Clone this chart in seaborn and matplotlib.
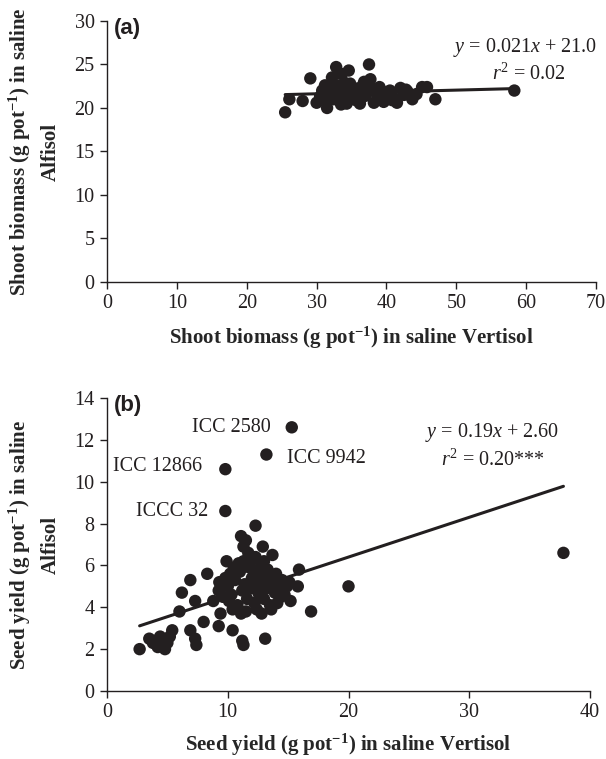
import numpy as np
import pandas as pd
import matplotlib
matplotlib.use('Agg')
import matplotlib.pyplot as plt
import seaborn as sns

# panel (a): shoot biomass, Vertisol vs Alfisol
biomass_vertisol = [25.5, 26.1, 28.0, 29.1, 30.0, 30.5, 30.8, 31.0, 31.3, 31.5, 31.8, 32.0,
                    32.2, 32.4, 32.8, 33.0, 33.2, 33.5, 33.6, 33.8, 34.0, 34.3, 34.6, 34.8,
                    35.0, 35.3, 35.6, 36.0, 36.2, 36.5, 37.0, 37.5, 37.7, 38.0, 38.2, 38.6,
                    39.0, 39.6, 40.0, 40.5, 41.0, 41.5, 42.0, 42.5, 43.0, 43.7, 44.3, 45.1,
                    45.8, 47.0, 58.3, 34.0, 36.8, 35.5, 39.2, 33.0, 31.2, 37.3, 40.8, 42.8]
biomass_alfisol = [19.5, 21.0, 20.8, 23.4, 20.6, 21.3, 22.0, 21.5, 20.8, 20.0, 21.8, 22.3,
                   23.5, 21.0, 24.7, 22.6, 21.6, 20.4, 23.9, 22.1, 21.2, 20.5, 24.3, 22.8,
                   21.7, 22.3, 20.9, 21.9, 20.5, 22.5, 21.4, 25.0, 23.3, 22.2, 20.6, 21.6,
                   22.4, 20.7, 21.8, 22.0, 21.2, 20.6, 22.3, 21.5, 21.9, 21.0, 21.6, 22.4,
                   22.4, 21.0, 22.0, 22.9, 23.0, 21.2, 21.0, 21.0, 22.6, 22.0, 20.9, 22.1]
eq_a = (0.021, 21.0)

# panel (b): seed yield, Vertisol vs Alfisol
seed_vertisol = [2.7, 3.5, 4.0, 4.4, 4.2, 4.8, 5.0, 5.4, 4.5, 3.8, 5.2,
                 6.0, 6.2, 6.9, 6.9, 7.3, 7.4, 7.3, 8.0, 8.3, 8.8, 9.25, 9.4, 9.25,
                 9.8, 9.9, 10.1, 10.4, 11.1, 11.5, 11.3, 11.2, 11.3, 11.1, 12.3, 12.9,
                 13.7, 13.1, 12.3, 11.3, 10.5, 13.3, 12.5, 15.9, 15.1, 15.8, 15.2, 14.4,
                 16.9, 20.0, 37.8,
                 10.0, 10.3, 10.6, 10.8, 11.0, 11.2, 11.4, 11.6, 11.8, 12.0, 12.0, 12.2,
                 12.4, 12.6, 12.7, 12.9, 13.0, 13.2, 13.4, 13.5, 13.7, 13.9, 14.0, 14.2,
                 14.5, 14.7, 14.9, 10.4, 11.5, 12.8, 10.9, 12.1, 13.0, 9.6, 9.3, 10.2,
                 11.7, 12.4, 14.1, 13.6]
seed_alfisol = [2.0, 2.5, 2.4, 2.6, 2.1, 2.0, 2.3, 2.9, 2.2, 2.3, 2.6,
                3.8, 4.7, 5.3, 2.9, 4.3, 2.2, 2.5, 3.3, 5.6, 4.3, 4.8, 3.7, 3.1,
                5.4, 6.2, 4.3, 2.9, 7.4, 7.2, 6.9, 2.4, 2.2, 3.7, 7.9, 6.9,
                6.5, 2.5, 6.4, 6.2, 5.9, 5.8, 5.6, 5.8, 5.2, 5.0, 4.3, 4.5,
                3.8, 5.0, 6.6,
                5.0, 4.6, 5.3, 4.1, 5.7, 4.8, 5.1, 4.4, 5.9, 4.9, 5.4, 4.2,
                5.0, 4.6, 5.9, 5.3, 4.4, 4.9, 5.5, 4.1, 5.1, 4.7, 5.6, 4.9,
                5.3, 4.6, 5.0, 3.9, 3.8, 3.7, 6.1, 6.3, 6.2, 4.5, 5.2, 5.6,
                6.6, 3.9, 4.2, 3.9]
genotypes = ['ICC 2580', 'ICC 9942', 'ICC 12866', 'ICCC 32']
geno_vertisol = [15.3, 13.2, 9.8, 9.8]
geno_alfisol = [12.6, 11.3, 10.6, 8.6]
eq_b = (0.19, 2.60)

ink = '#231f20'
sns.set_style('ticks')
plt.rcParams['font.family'] = ['Liberation Serif', 'DejaVu Serif']
plt.rcParams['mathtext.fontset'] = 'custom'
plt.rcParams['mathtext.rm'] = 'Liberation Serif'
plt.rcParams['mathtext.it'] = 'Liberation Serif:italic'
plt.rcParams['mathtext.bf'] = 'Liberation Serif:bold'
plt.rcParams['text.color'] = ink
plt.rcParams['axes.edgecolor'] = ink
plt.rcParams['xtick.color'] = ink
plt.rcParams['ytick.color'] = ink

fig = plt.figure(figsize=(6.06, 7.59), dpi=100)
ax1 = fig.add_axes([0.1766, 0.6285, 0.8070, 0.3439])
ax2 = fig.add_axes([0.1766, 0.0896, 0.7970, 0.3860])

df_a = pd.DataFrame({'vert': biomass_vertisol, 'alf': biomass_alfisol})
df_b = pd.DataFrame({'vert': seed_vertisol + geno_vertisol, 'alf': seed_alfisol + geno_alfisol})

for ax, df, eq in [(ax1, df_a, eq_a), (ax2, df_b, eq_b)]:
    sns.scatterplot(data=df, x='vert', y='alf', ax=ax, color=ink, s=80,
                    edgecolor='none', legend=False, zorder=3)
    xs = np.array([df['vert'].min(), df['vert'].max()])
    ax.plot(xs, eq[0] * xs + eq[1], color=ink, lw=2.2, zorder=2)
    sns.despine(ax=ax)
    for s in ['left', 'bottom']:
        ax.spines[s].set_linewidth(1.0)
    ax.tick_params(direction='out', length=5, width=1.0, labelsize=14.5, pad=4)

ax1.set_xlim(0, 70)
ax1.set_ylim(0, 30)
ax1.set_xticks(range(0, 71, 10))
ax1.set_yticks(range(0, 31, 5))
ax2.set_xlim(0, 40)
ax2.set_ylim(0, 14)
ax2.set_xticks(range(0, 41, 10))
ax2.set_yticks(range(0, 15, 2))

lab = dict(fontsize=15, fontweight='bold')
ax1.set_xlabel(r'Shoot biomass (g pot$^{\mathbf{-1}}$) in saline Vertisol', labelpad=8, **lab)
ax1.set_ylabel('Shoot biomass (g pot$^{\\mathbf{-1}}$) in saline\nAlfisol', labelpad=10,
               linespacing=1.5, **lab)
ax2.set_xlabel(r'Seed yield (g pot$^{\mathbf{-1}}$) in saline Vertisol', labelpad=7, **lab)
ax2.set_ylabel('Seed yield (g pot$^{\\mathbf{-1}}$) in saline\nAlfisol', labelpad=10,
               linespacing=1.5, **lab)

panel = dict(fontsize=16, fontweight='bold', family=['Liberation Sans', 'DejaVu Sans'],
             va='top', ha='left')
ax1.text(0.015, 1.01, '(a)', transform=ax1.transAxes, **panel)
ax2.text(0.015, 1.01, '(b)', transform=ax2.transAxes, **panel)

eq_style = dict(ha='center', va='center', fontsize=14.5, zorder=5)
ax1.text(0.855, 0.900, r'$y$ = 0.021$x$ + 21.0', transform=ax1.transAxes, **eq_style)
ax1.text(0.862, 0.797, r'$r^{\mathrm{2}}$ = 0.02', transform=ax1.transAxes, **eq_style)
ax2.text(0.797, 0.884, r'$y$ = 0.19$x$ + 2.60', transform=ax2.transAxes, **eq_style)
ax2.text(0.800, 0.788, r'$r^{\mathrm{2}}$ = 0.20***', transform=ax2.transAxes, **eq_style)

offsets = [(-15, 0, 'right'), (15, -3, 'left'), (-17, 2, 'right'), (-12, 0, 'right')]
for name, xv, yv, (dx, dy, ha) in zip(genotypes, geno_vertisol, geno_alfisol, offsets):
    ax2.annotate(name, (xv, yv), xytext=(dx, dy), textcoords='offset points',
                 ha=ha, va='center', fontsize=14.5)

fig.savefig('out.png', dpi=100)
